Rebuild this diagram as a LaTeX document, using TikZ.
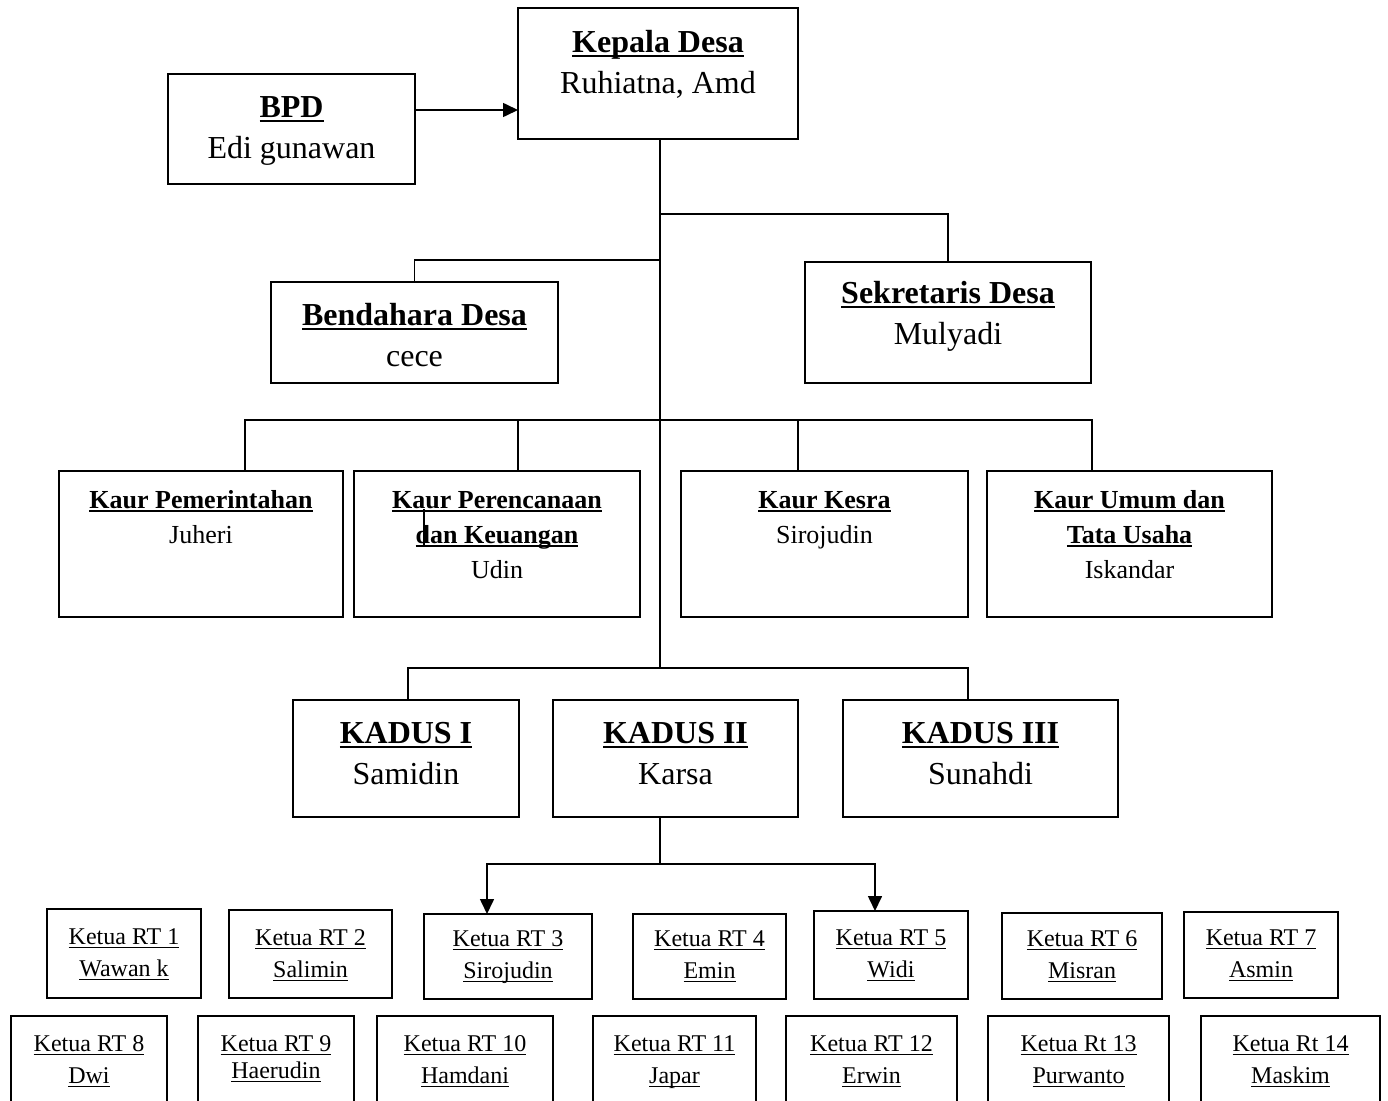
\documentclass[tikz,border=0pt]{standalone}
\usepackage{fontspec}
\setmainfont{Liberation Serif}
\usetikzlibrary{arrows.meta}
\newcommand\myul[2]{\leavevmode\begingroup\setbox0\hbox{#2}\rlap{\rule[-0.17em]{\wd0}{#1}}\box0\endgroup}
\newcommand\ulb[1]{\myul{2.8pt}{\bfseries #1}}
\newcommand\ulk[1]{\myul{2.4pt}{\bfseries #1}}
\newcommand\ulr[1]{\myul{1.4pt}{#1}}
\newcommand\bigf{\fontsize{32}{41}\selectfont}
\newcommand\kaurf{\fontsize{26}{35}\selectfont}
\newcommand\rtf{\fontsize{24}{32}\selectfont}
\tikzset{
  orgbox/.style={draw, line width=1.7pt, inner sep=0pt, outer sep=0pt, anchor=north west},
  conn/.style={line width=1.6pt},
  arr/.style={conn, -{Triangle[length=15pt,width=14pt]}}
}
% name, x1, y1, x2, y2, first baseline offset, font, content
\newcommand\orgbox[8]{%
  \pgfmathsetmacro\bw{#4-#2}\pgfmathsetmacro\bh{#5-#3}%
  \node[orgbox] (#1) at (#2,#3) {\parbox[c][\bh pt][t]{\bw pt}{#7\centering\rule{0pt}{#6pt}\ignorespaces #8}};%
}
\begin{document}
\begin{tikzpicture}[x=1pt,y=-1pt]
\useasboundingbox (0,0) rectangle (1388,1100);
\clip (0,0) rectangle (1388,1100);
% top level
\orgbox{kd}{518}{8}{798}{139}{44}{\bigf}{\ulb{Kepala Desa}\\Ruhiatna, Amd}
\orgbox{bpd}{168}{74}{415}{184}{43}{\bigf}{\ulb{BPD}\\Edi gunawan}
\orgbox{bd}{271}{282}{558}{383}{43}{\bigf}{\ulb{Bendahara Desa}\\cece}
\orgbox{sk}{805}{262}{1091}{383}{41}{\bigf}{\ulb{Sekretaris Desa}\\Mulyadi}
% kaur
\orgbox{k1}{59}{471}{343}{617}{37}{\kaurf}{\ulk{Kaur Pemerintahan}\\Juheri}
\orgbox{k2}{354}{471}{640}{617}{37}{\kaurf}{\ulk{Kaur Perencanaan}\\\ulk{dan Keuangan}\\Udin}
\orgbox{k3}{681}{471}{968}{617}{37}{\kaurf}{\ulk{Kaur Kesra}\\Sirojudin}
\orgbox{k4}{987}{471}{1272}{617}{37}{\kaurf}{\ulk{Kaur Umum dan}\\\ulk{Tata Usaha}\\Iskandar}
% kadus
\orgbox{d1}{293}{700}{519}{817}{43}{\bigf}{\ulb{KADUS I}\\Samidin}
\orgbox{d2}{553}{700}{798}{817}{43}{\bigf}{\ulb{KADUS II}\\Karsa}
\orgbox{d3}{843}{700}{1118}{817}{43}{\bigf}{\ulb{KADUS III}\\Sunahdi}
% RT row 1
\orgbox{r1}{47}{909}{201}{998}{35}{\rtf}{\ulr{Ketua RT 1}\\\ulr{Wawan k}}
\orgbox{r2}{229}{910}{392}{998}{35}{\rtf}{\ulr{Ketua RT 2}\\\ulr{Salimin}}
\orgbox{r3}{424}{914}{592}{999}{32}{\rtf}{\ulr{Ketua RT 3}\\\ulr{Sirojudin}}
\orgbox{r4}{633}{914}{786}{999}{32}{\rtf}{\ulr{Ketua RT 4}\\\ulr{Emin}}
\orgbox{r5}{814}{911}{968}{999}{34}{\rtf}{\ulr{Ketua RT 5}\\\ulr{Widi}}
\orgbox{r6}{1002}{913}{1162}{999}{33}{\rtf}{\ulr{Ketua RT 6}\\\ulr{Misran}}
\orgbox{r7}{1184}{912}{1338}{998}{33}{\rtf}{\ulr{Ketua RT 7}\\\ulr{Asmin}}
% RT row 2
\orgbox{r8}{11}{1016}{167}{1130}{35}{\rtf}{\ulr{Ketua RT 8}\\\ulr{Dwi}}
\orgbox{r9}{198}{1016}{354}{1130}{35}{\rtf}{\ulr{Ketua RT 9}\\[-5pt]\ulr{Haerudin}}
\orgbox{r10}{377}{1016}{553}{1130}{35}{\rtf}{\ulr{Ketua RT 10}\\\ulr{Hamdani}}
\orgbox{r11}{593}{1016}{756}{1130}{35}{\rtf}{\ulr{Ketua RT 11}\\\ulr{Japar}}
\orgbox{r12}{786}{1016}{957}{1130}{35}{\rtf}{\ulr{Ketua RT 12}\\\ulr{Erwin}}
\orgbox{r13}{988}{1016}{1169}{1130}{35}{\rtf}{\ulr{Ketua Rt 13}\\\ulr{Purwanto}}
\orgbox{r14}{1201}{1016}{1380}{1130}{35}{\rtf}{\ulr{Ketua Rt 14}\\\ulr{Maskim}}
% connectors
\draw[arr] (bpd.east |- 0,110) -- (kd.west |- 0,110);
\draw[conn] (kd.south -| 660,0) -- (660,668);
\draw[conn] (660,214) -| (sk.north);
\draw[conn] (660,260) -| (bd.north);
\draw[conn] (k1.north -| 245,0) -- (245,420) -- (1092,420) -- (k4.north -| 1092,0);
\draw[conn] (518,420) -- (k2.north -| 518,0);
\draw[conn] (798,420) -- (k3.north -| 798,0);
\draw[conn] (d1.north -| 408,0) -- (408,668) -- (968,668) -- (d3.north -| 968,0);
\draw[conn] (d2.south -| 660,0) -- (660,864);
\draw[arr] (660,864) -| (r3.north -| 487,0);
\draw[arr] (660,864) -| (r5.north -| 875,0);
% stray mark inside Kaur Perencanaan box
\draw[line width=1.4pt] (424,509) -- (424,545);
\end{tikzpicture}
\end{document}
